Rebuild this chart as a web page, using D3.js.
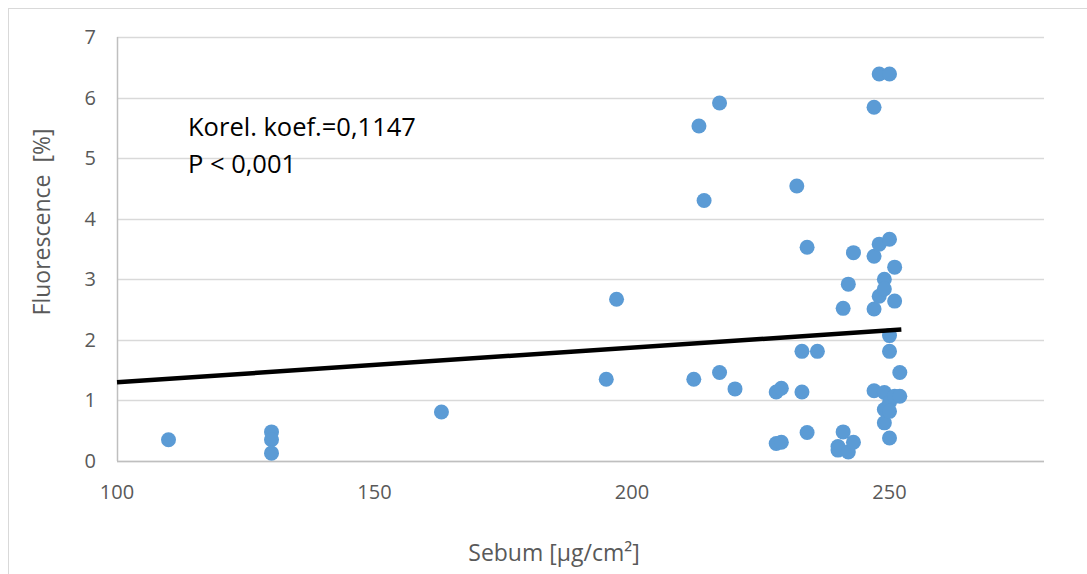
<!DOCTYPE html>
<html>
<head>
<meta charset="utf-8">
<script src="https://cdn.jsdelivr.net/npm/d3@7"></script>
<style>
  body { margin: 0; background: #fff; }
  svg { display: block; font-family: "Open Sans", "Liberation Sans", sans-serif; }
</style>
</head>
<body>
<svg id="chart" width="1087" height="574"></svg>
<script>
// sebum vs fluorescence
const sebum = [110, 130, 130, 130, 163, 195, 197, 212, 213, 214, 217, 217, 220,
  228, 229, 228, 229, 232, 233, 233, 236, 234, 234, 240, 240, 241, 241, 242, 242,
  243, 243, 247, 247, 247, 247, 248, 248, 248, 249, 249, 249, 249, 249,
  250, 250, 250, 250, 250, 250, 250, 251, 251, 251, 252, 252];
const fluorescence = [0.35, 0.48, 0.35, 0.13, 0.81, 1.35, 2.67, 1.35, 5.53, 4.30, 5.91, 1.46, 1.19,
  1.14, 1.20, 0.29, 0.31, 4.54, 1.14, 1.81, 1.81, 3.53, 0.47, 0.24, 0.18, 0.48, 2.52, 2.92, 0.15,
  3.44, 0.31, 3.38, 5.84, 2.51, 1.16, 6.39, 3.58, 2.72, 3.00, 2.84, 1.13, 0.85, 0.63,
  6.39, 3.66, 2.07, 1.81, 0.97, 0.82, 0.38, 3.20, 2.64, 1.07, 1.46, 1.07];

// trendline ends
const trendX = [100, 252.3];
const trendY = [1.30, 2.17];

const xTicks = [100, 150, 200, 250];
const yTicks = [0, 1, 2, 3, 4, 5, 6, 7];

const svg = d3.select('#chart');

// chart frame
svg.append('rect')
  .attr('x', 8.5).attr('y', 8.5)
  .attr('width', 1100).attr('height', 600)
  .style('fill', 'none')
  .style('stroke', '#d9d9d9')
  .style('stroke-width', 1);

const x = d3.scaleLinear().domain([100, 280]).range([117, 1044]);
const y = d3.scaleLinear().domain([0, 7]).range([461, 37]);

// gridlines
svg.append('g')
  .selectAll('line')
  .data(yTicks)
  .join('line')
  .attr('x1', x(100)).attr('x2', x(280))
  .attr('y1', d => Math.round(y(d)) + 0.5)
  .attr('y2', d => Math.round(y(d)) + 0.5)
  .style('stroke', '#d9d9d9')
  .style('stroke-width', 1.5);

// axis lines
svg.append('line')
  .attr('x1', x(100) + 0.5).attr('x2', x(100) + 0.5)
  .attr('y1', y(7)).attr('y2', y(0))
  .style('stroke', '#bfbfbf')
  .style('stroke-width', 1.5);

svg.append('line')
  .attr('x1', x(100)).attr('x2', x(280))
  .attr('y1', Math.round(y(0)) + 0.5).attr('y2', Math.round(y(0)) + 0.5)
  .style('stroke', '#bfbfbf')
  .style('stroke-width', 1.5);

// tick labels
svg.append('g')
  .selectAll('text')
  .data(yTicks)
  .join('text')
  .attr('x', 96)
  .attr('y', d => y(d) + 7)
  .attr('text-anchor', 'end')
  .style('font-size', '20px')
  .style('fill', '#595959')
  .text(d => d);

svg.append('g')
  .selectAll('text')
  .data(xTicks)
  .join('text')
  .attr('x', d => x(d))
  .attr('y', 499)
  .attr('text-anchor', 'middle')
  .style('font-size', '20px')
  .style('fill', '#595959')
  .text(d => d);

// axis titles
svg.append('text')
  .attr('x', 554).attr('y', 561)
  .attr('text-anchor', 'middle')
  .style('font-size', '23px')
  .style('fill', '#595959')
  .text('Sebum [µg/cm²]');

svg.append('text')
  .attr('transform', 'translate(50,222)rotate(-90)')
  .attr('text-anchor', 'middle')
  .style('font-size', '23px')
  .style('fill', '#595959')
  .style('white-space', 'pre')
  .text('Fluorescence  [%]');

// points
const pts = sebum.map((s, i) => ({ s: s, f: fluorescence[i] }));
svg.append('g')
  .selectAll('circle')
  .data(pts)
  .join('circle')
  .attr('cx', d => x(d.s))
  .attr('cy', d => y(d.f))
  .attr('r', 7.5)
  .style('fill', '#5b9bd5');

// trendline
const line = d3.line().x(d => x(d[0])).y(d => y(d[1]));
svg.append('path')
  .datum(trendX.map((v, i) => [v, trendY[i]]))
  .attr('d', line)
  .style('fill', 'none')
  .style('stroke', '#000')
  .style('stroke-width', 4.5);

// annotation
svg.append('text')
  .attr('x', 188).attr('y', 136)
  .style('font-size', '25.5px')
  .style('fill', '#000')
  .text('Korel. koef.=0,1147');
svg.append('text')
  .attr('x', 188).attr('y', 173)
  .style('font-size', '25.5px')
  .style('fill', '#000')
  .text('P < 0,001');
</script>
</body>
</html>
